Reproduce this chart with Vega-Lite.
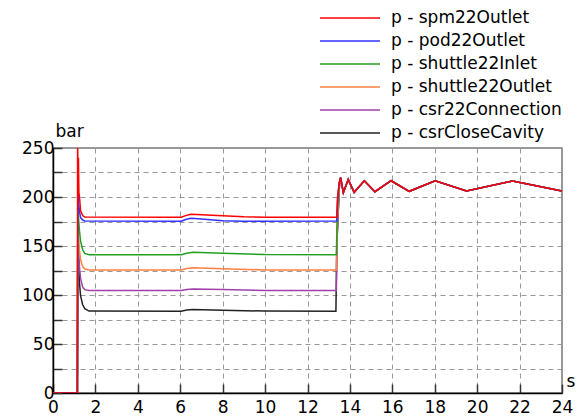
{
  "$schema": "https://vega.github.io/schema/vega-lite/v6.json",
  "width": 509,
  "height": 245,
  "autosize": "none",
  "padding": {"left": 53, "top": 148, "right": 20, "bottom": 25},
  "background": "white",
  "config": {
    "font": "DejaVu Sans",
    "view": {"stroke": "#777777", "strokeWidth": 1.5},
    "axis": {
      "labelFont": "DejaVu Sans",
      "titleFont": "DejaVu Sans",
      "labelFontSize": 17,
      "titleFontSize": 17,
      "titleFontWeight": "normal",
      "labelColor": "#000000",
      "titleColor": "#000000",
      "domainColor": "#000000",
      "domainWidth": 1.5,
      "tickColor": "#333333",
      "tickWidth": 1.5,
      "tickSize": -9,
      "gridColor": "#999999",
      "gridDash": [5, 4],
      "gridWidth": 1
    }
  },
  "data": {
    "values": [
      {"s": "p - csrCloseCavity", "t": 0, "v": 0},
      {"s": "p - csrCloseCavity", "t": 1.15, "v": 0},
      {"s": "p - csrCloseCavity", "t": 1.17, "v": 170},
      {"s": "p - csrCloseCavity", "t": 1.2, "v": 140},
      {"s": "p - csrCloseCavity", "t": 1.25, "v": 112},
      {"s": "p - csrCloseCavity", "t": 1.3, "v": 99},
      {"s": "p - csrCloseCavity", "t": 1.4, "v": 90},
      {"s": "p - csrCloseCavity", "t": 1.5, "v": 86},
      {"s": "p - csrCloseCavity", "t": 1.7, "v": 83.6},
      {"s": "p - csrCloseCavity", "t": 6.05, "v": 83.5},
      {"s": "p - csrCloseCavity", "t": 6.3, "v": 84.6},
      {"s": "p - csrCloseCavity", "t": 6.6, "v": 85.2},
      {"s": "p - csrCloseCavity", "t": 8, "v": 84.5},
      {"s": "p - csrCloseCavity", "t": 10, "v": 83.6},
      {"s": "p - csrCloseCavity", "t": 13.34, "v": 83.5},
      {"s": "p - csrCloseCavity", "t": 13.38, "v": 150},
      {"s": "p - csrCloseCavity", "t": 13.5, "v": 210},
      {"s": "p - csrCloseCavity", "t": 13.56, "v": 219.7},
      {"s": "p - csrCloseCavity", "t": 13.69, "v": 204.4},
      {"s": "p - csrCloseCavity", "t": 13.92, "v": 218},
      {"s": "p - csrCloseCavity", "t": 14.2, "v": 204.8},
      {"s": "p - csrCloseCavity", "t": 14.68, "v": 216.6},
      {"s": "p - csrCloseCavity", "t": 15.18, "v": 205.4},
      {"s": "p - csrCloseCavity", "t": 15.94, "v": 216.6},
      {"s": "p - csrCloseCavity", "t": 16.8, "v": 205.8},
      {"s": "p - csrCloseCavity", "t": 18.02, "v": 216.6},
      {"s": "p - csrCloseCavity", "t": 19.5, "v": 206.1},
      {"s": "p - csrCloseCavity", "t": 21.67, "v": 216.3},
      {"s": "p - csrCloseCavity", "t": 24, "v": 206},

      {"s": "p - csr22Connection", "t": 0, "v": 0},
      {"s": "p - csr22Connection", "t": 1.15, "v": 0},
      {"s": "p - csr22Connection", "t": 1.17, "v": 180},
      {"s": "p - csr22Connection", "t": 1.2, "v": 150},
      {"s": "p - csr22Connection", "t": 1.25, "v": 128},
      {"s": "p - csr22Connection", "t": 1.3, "v": 117},
      {"s": "p - csr22Connection", "t": 1.4, "v": 108},
      {"s": "p - csr22Connection", "t": 1.5, "v": 105.5},
      {"s": "p - csr22Connection", "t": 1.7, "v": 104.5},
      {"s": "p - csr22Connection", "t": 6.05, "v": 104.5},
      {"s": "p - csr22Connection", "t": 6.3, "v": 105.6},
      {"s": "p - csr22Connection", "t": 6.6, "v": 106.2},
      {"s": "p - csr22Connection", "t": 8, "v": 105.5},
      {"s": "p - csr22Connection", "t": 10, "v": 104.6},
      {"s": "p - csr22Connection", "t": 13.36, "v": 104.5},
      {"s": "p - csr22Connection", "t": 13.4, "v": 160},
      {"s": "p - csr22Connection", "t": 13.5, "v": 210},
      {"s": "p - csr22Connection", "t": 13.56, "v": 219.7},
      {"s": "p - csr22Connection", "t": 13.69, "v": 204.4},
      {"s": "p - csr22Connection", "t": 13.92, "v": 218},
      {"s": "p - csr22Connection", "t": 14.2, "v": 204.8},
      {"s": "p - csr22Connection", "t": 14.68, "v": 216.6},
      {"s": "p - csr22Connection", "t": 15.18, "v": 205.4},
      {"s": "p - csr22Connection", "t": 15.94, "v": 216.6},
      {"s": "p - csr22Connection", "t": 16.8, "v": 205.8},
      {"s": "p - csr22Connection", "t": 18.02, "v": 216.6},
      {"s": "p - csr22Connection", "t": 19.5, "v": 206.1},
      {"s": "p - csr22Connection", "t": 21.67, "v": 216.3},
      {"s": "p - csr22Connection", "t": 24, "v": 206},

      {"s": "p - shuttle22Outlet", "t": 0, "v": 0},
      {"s": "p - shuttle22Outlet", "t": 1.15, "v": 0},
      {"s": "p - shuttle22Outlet", "t": 1.17, "v": 190},
      {"s": "p - shuttle22Outlet", "t": 1.2, "v": 160},
      {"s": "p - shuttle22Outlet", "t": 1.25, "v": 145},
      {"s": "p - shuttle22Outlet", "t": 1.3, "v": 136},
      {"s": "p - shuttle22Outlet", "t": 1.4, "v": 129},
      {"s": "p - shuttle22Outlet", "t": 1.5, "v": 126.5},
      {"s": "p - shuttle22Outlet", "t": 1.7, "v": 125.5},
      {"s": "p - shuttle22Outlet", "t": 6.05, "v": 125.5},
      {"s": "p - shuttle22Outlet", "t": 6.3, "v": 127},
      {"s": "p - shuttle22Outlet", "t": 6.6, "v": 127.8},
      {"s": "p - shuttle22Outlet", "t": 8, "v": 126.8},
      {"s": "p - shuttle22Outlet", "t": 10, "v": 125.6},
      {"s": "p - shuttle22Outlet", "t": 13.36, "v": 125.5},
      {"s": "p - shuttle22Outlet", "t": 13.4, "v": 170},
      {"s": "p - shuttle22Outlet", "t": 13.5, "v": 212},
      {"s": "p - shuttle22Outlet", "t": 13.56, "v": 219.7},
      {"s": "p - shuttle22Outlet", "t": 13.69, "v": 204.4},
      {"s": "p - shuttle22Outlet", "t": 13.92, "v": 218},
      {"s": "p - shuttle22Outlet", "t": 14.2, "v": 204.8},
      {"s": "p - shuttle22Outlet", "t": 14.68, "v": 216.6},
      {"s": "p - shuttle22Outlet", "t": 15.18, "v": 205.4},
      {"s": "p - shuttle22Outlet", "t": 15.94, "v": 216.6},
      {"s": "p - shuttle22Outlet", "t": 16.8, "v": 205.8},
      {"s": "p - shuttle22Outlet", "t": 18.02, "v": 216.6},
      {"s": "p - shuttle22Outlet", "t": 19.5, "v": 206.1},
      {"s": "p - shuttle22Outlet", "t": 21.67, "v": 216.3},
      {"s": "p - shuttle22Outlet", "t": 24, "v": 206},

      {"s": "p - shuttle22Inlet", "t": 0, "v": 0},
      {"s": "p - shuttle22Inlet", "t": 1.15, "v": 0},
      {"s": "p - shuttle22Inlet", "t": 1.17, "v": 200},
      {"s": "p - shuttle22Inlet", "t": 1.2, "v": 180},
      {"s": "p - shuttle22Inlet", "t": 1.25, "v": 165},
      {"s": "p - shuttle22Inlet", "t": 1.3, "v": 155},
      {"s": "p - shuttle22Inlet", "t": 1.4, "v": 146},
      {"s": "p - shuttle22Inlet", "t": 1.5, "v": 142.5},
      {"s": "p - shuttle22Inlet", "t": 1.7, "v": 141},
      {"s": "p - shuttle22Inlet", "t": 6.05, "v": 141},
      {"s": "p - shuttle22Inlet", "t": 6.3, "v": 142.5},
      {"s": "p - shuttle22Inlet", "t": 6.6, "v": 143.5},
      {"s": "p - shuttle22Inlet", "t": 8, "v": 142.5},
      {"s": "p - shuttle22Inlet", "t": 10, "v": 141.3},
      {"s": "p - shuttle22Inlet", "t": 13.36, "v": 141},
      {"s": "p - shuttle22Inlet", "t": 13.4, "v": 180},
      {"s": "p - shuttle22Inlet", "t": 13.5, "v": 215},
      {"s": "p - shuttle22Inlet", "t": 13.56, "v": 219.7},
      {"s": "p - shuttle22Inlet", "t": 13.69, "v": 204.4},
      {"s": "p - shuttle22Inlet", "t": 13.92, "v": 218},
      {"s": "p - shuttle22Inlet", "t": 14.2, "v": 204.8},
      {"s": "p - shuttle22Inlet", "t": 14.68, "v": 216.6},
      {"s": "p - shuttle22Inlet", "t": 15.18, "v": 205.4},
      {"s": "p - shuttle22Inlet", "t": 15.94, "v": 216.6},
      {"s": "p - shuttle22Inlet", "t": 16.8, "v": 205.8},
      {"s": "p - shuttle22Inlet", "t": 18.02, "v": 216.6},
      {"s": "p - shuttle22Inlet", "t": 19.5, "v": 206.1},
      {"s": "p - shuttle22Inlet", "t": 21.67, "v": 216.3},
      {"s": "p - shuttle22Inlet", "t": 24, "v": 206},

      {"s": "p - pod22Outlet", "t": 0, "v": 0},
      {"s": "p - pod22Outlet", "t": 1.15, "v": 0},
      {"s": "p - pod22Outlet", "t": 1.17, "v": 215},
      {"s": "p - pod22Outlet", "t": 1.2, "v": 195},
      {"s": "p - pod22Outlet", "t": 1.25, "v": 185},
      {"s": "p - pod22Outlet", "t": 1.3, "v": 179},
      {"s": "p - pod22Outlet", "t": 1.4, "v": 176.5},
      {"s": "p - pod22Outlet", "t": 1.5, "v": 175.5},
      {"s": "p - pod22Outlet", "t": 6.05, "v": 175.3},
      {"s": "p - pod22Outlet", "t": 6.25, "v": 177},
      {"s": "p - pod22Outlet", "t": 6.5, "v": 178.3},
      {"s": "p - pod22Outlet", "t": 7, "v": 177.5},
      {"s": "p - pod22Outlet", "t": 8, "v": 175.8},
      {"s": "p - pod22Outlet", "t": 9, "v": 175.3},
      {"s": "p - pod22Outlet", "t": 13.38, "v": 175.5},
      {"s": "p - pod22Outlet", "t": 13.42, "v": 200},
      {"s": "p - pod22Outlet", "t": 13.5, "v": 215},
      {"s": "p - pod22Outlet", "t": 13.56, "v": 219.7},
      {"s": "p - pod22Outlet", "t": 13.69, "v": 204.4},
      {"s": "p - pod22Outlet", "t": 13.92, "v": 218},
      {"s": "p - pod22Outlet", "t": 14.2, "v": 204.8},
      {"s": "p - pod22Outlet", "t": 14.68, "v": 216.6},
      {"s": "p - pod22Outlet", "t": 15.18, "v": 205.4},
      {"s": "p - pod22Outlet", "t": 15.94, "v": 216.6},
      {"s": "p - pod22Outlet", "t": 16.8, "v": 205.8},
      {"s": "p - pod22Outlet", "t": 18.02, "v": 216.6},
      {"s": "p - pod22Outlet", "t": 19.5, "v": 206.1},
      {"s": "p - pod22Outlet", "t": 21.67, "v": 216.3},
      {"s": "p - pod22Outlet", "t": 24, "v": 206},

      {"s": "p - spm22Outlet", "t": 0, "v": 0},
      {"s": "p - spm22Outlet", "t": 1.15, "v": 0},
      {"s": "p - spm22Outlet", "t": 1.16, "v": 262},
      {"s": "p - spm22Outlet", "t": 1.18, "v": 215},
      {"s": "p - spm22Outlet", "t": 1.2, "v": 240},
      {"s": "p - spm22Outlet", "t": 1.22, "v": 205},
      {"s": "p - spm22Outlet", "t": 1.25, "v": 200},
      {"s": "p - spm22Outlet", "t": 1.3, "v": 186},
      {"s": "p - spm22Outlet", "t": 1.4, "v": 181},
      {"s": "p - spm22Outlet", "t": 1.5, "v": 179.5},
      {"s": "p - spm22Outlet", "t": 6.05, "v": 179.3},
      {"s": "p - spm22Outlet", "t": 6.25, "v": 181},
      {"s": "p - spm22Outlet", "t": 6.5, "v": 182.3},
      {"s": "p - spm22Outlet", "t": 7.5, "v": 181.5},
      {"s": "p - spm22Outlet", "t": 9, "v": 179.8},
      {"s": "p - spm22Outlet", "t": 10, "v": 179.3},
      {"s": "p - spm22Outlet", "t": 13.38, "v": 179.3},
      {"s": "p - spm22Outlet", "t": 13.42, "v": 200},
      {"s": "p - spm22Outlet", "t": 13.5, "v": 215},
      {"s": "p - spm22Outlet", "t": 13.56, "v": 219.7},
      {"s": "p - spm22Outlet", "t": 13.69, "v": 204.4},
      {"s": "p - spm22Outlet", "t": 13.92, "v": 218},
      {"s": "p - spm22Outlet", "t": 14.2, "v": 204.8},
      {"s": "p - spm22Outlet", "t": 14.68, "v": 216.6},
      {"s": "p - spm22Outlet", "t": 15.18, "v": 205.4},
      {"s": "p - spm22Outlet", "t": 15.94, "v": 216.6},
      {"s": "p - spm22Outlet", "t": 16.8, "v": 205.8},
      {"s": "p - spm22Outlet", "t": 18.02, "v": 216.6},
      {"s": "p - spm22Outlet", "t": 19.5, "v": 206.1},
      {"s": "p - spm22Outlet", "t": 21.67, "v": 216.3},
      {"s": "p - spm22Outlet", "t": 24, "v": 206}
    ]
  },
  "mark": {"type": "line", "strokeWidth": 1.5, "clip": true, "interpolate": "linear"},
  "encoding": {
    "x": {
      "field": "t",
      "type": "quantitative",
      "scale": {"domain": [0, 24], "nice": false, "zero": false},
      "axis": {
        "values": [0, 2, 4, 6, 8, 10, 12, 14, 16, 18, 20, 22, 24],
        "title": "s",
        "titleAngle": 0,
        "titleAlign": "left",
        "titleBaseline": "middle",
        "titleX": 513,
        "titleY": -12,
        "labelPadding": 15,
        "labelFlush": false,
        "grid": true
      }
    },
    "y": {
      "field": "v",
      "type": "quantitative",
      "scale": {"domain": [0, 250], "nice": false},
      "axis": {
        "values": [0, 25, 50, 75, 100, 125, 150, 175, 200, 225, 250],
        "labelExpr": "datum.value % 50 == 0 ? datum.label : ''",
        "title": "bar",
        "titleAngle": 0,
        "titleAlign": "left",
        "titleBaseline": "bottom",
        "titleX": 2,
        "titleY": -8,
        "labelPadding": 8,
        "labelFlush": false,
        "grid": true
      }
    },
    "color": {
      "field": "s",
      "type": "nominal",
      "scale": {
        "domain": ["p - spm22Outlet", "p - pod22Outlet", "p - shuttle22Inlet", "p - shuttle22Outlet", "p - csr22Connection", "p - csrCloseCavity"],
        "range": ["#ff0000", "#3333ff", "#22a022", "#ff8040", "#a040a8", "#222222"]
      },
      "legend": {
        "title": null,
        "orient": "none",
        "legendX": 256,
        "legendY": -141,
        "symbolType": "M0,0H6",
        "symbolSize": 400,
        "symbolStrokeWidth": 1.5,
        "labelFontSize": 17,
        "labelFont": "DejaVu Sans",
        "labelColor": "#000000",
        "labelOffset": 60,
        "labelLimit": 300,
        "rowPadding": 4
      }
    }
  }
}
